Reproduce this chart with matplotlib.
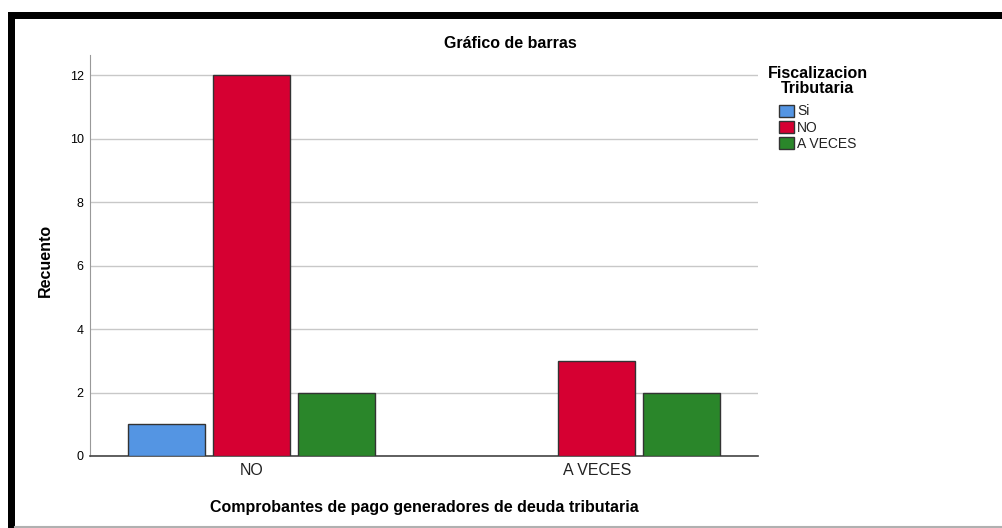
import numpy as np
import matplotlib
matplotlib.use("Agg")
import matplotlib.pyplot as plt
from matplotlib.patches import Rectangle, Patch
from matplotlib.lines import Line2D

plt.rcParams['font.family'] = ['Liberation Sans', 'DejaVu Sans']

# Datos
categorias = ["NO", "A VECES"]
series = ["Si", "NO", "A VECES"]
valores = {
    "Si": [1, 0],
    "NO": [12, 3],
    "A VECES": [2, 2],
}
colores = {"Si": "#5495E3", "NO": "#D60032", "A VECES": "#2A862A"}
yticks = [0, 2, 4, 6, 8, 10, 12]

W, H = 1002, 528
fig = plt.figure(figsize=(W / 100, H / 100), dpi=100)
fig.patch.set_facecolor("white")

# ejes en coordenadas de pixel
x0, x1 = 90, 758
y_top, y_bot = 55, 456
ax = fig.add_axes([x0 / W, 1 - y_bot / H, (x1 - x0) / W, (y_bot - y_top) / H])

x = np.arange(len(categorias))
offset = 0.2464
ancho = 0.2232
for i, s in enumerate(series):
    vals = np.array(valores[s])
    pos = x + (i - 1) * offset
    mask = vals > 0
    ax.bar(pos[mask], vals[mask], width=ancho, color=colores[s],
           edgecolor="#333333", linewidth=1.0, zorder=3)

ax.set_xlim(-0.4696, 1.467)
ax.set_ylim(0, 12.63)
ax.set_yticks(yticks)
ax.set_yticklabels([str(v) for v in yticks], fontsize=9)
ax.set_xticks(x)
ax.set_xticklabels(categorias, fontsize=11.5, color="#222222")
ax.tick_params(axis="y", length=0, pad=4.5)
ax.tick_params(axis="x", length=0, pad=5)
ax.grid(axis="y", color="#c8c8c8", linewidth=1.0, zorder=0)
for sp in ["top", "right"]:
    ax.spines[sp].set_visible(False)
ax.spines["left"].set_color("#999999")
ax.spines["bottom"].set_color("#444444")
ax.spines["bottom"].set_linewidth(1.2)

ax.set_ylabel("Recuento", fontsize=11.5, fontweight="bold")
ax.yaxis.set_label_coords((53 - x0) / (x1 - x0), (y_bot - 260) / (y_bot - y_top))
ax.set_xlabel("Comprobantes de pago generadores de deuda tributaria",
              fontsize=11.5, fontweight="bold", labelpad=16)

fig.text(510 / W, 1 - 43 / H, "Gráfico de barras", ha="center", va="center",
         fontsize=11.5, fontweight="bold")

# leyenda
handles = [Patch(facecolor=colores[s], edgecolor="#333333", label=s) for s in series]
leg = fig.legend(handles=handles, title="Fiscalizacion\nTributaria",
                 loc="upper left", bbox_to_anchor=(762 / W, 1 - 60 / H),
                 frameon=False, fontsize=10, handlelength=1.1, handleheight=1.0,
                 handletextpad=0.2, labelspacing=0.15, borderaxespad=0,
                 labelcolor="#222222")
leg.get_title().set_fontweight("bold")
leg.get_title().set_fontsize(11.5)
leg.get_title().set_multialignment("center")
leg.get_title().set_linespacing(1.05)
leg._legend_box.sep = 6

# marco negro
fig.patches.append(Rectangle((8 / W, 0), 7 / W, (H - 12) / H, transform=fig.transFigure,
                             facecolor="black", edgecolor="none"))
fig.patches.append(Rectangle((8 / W, 1 - 19 / H), (W - 8) / W, 7 / H, transform=fig.transFigure,
                             facecolor="black", edgecolor="none"))
fig.lines.append(Line2D([15 / W, 1], [1.5 / H, 1.5 / H], transform=fig.transFigure,
                        color="#b0b0b0", linewidth=1.5))

fig.savefig("out.png", dpi=100)
